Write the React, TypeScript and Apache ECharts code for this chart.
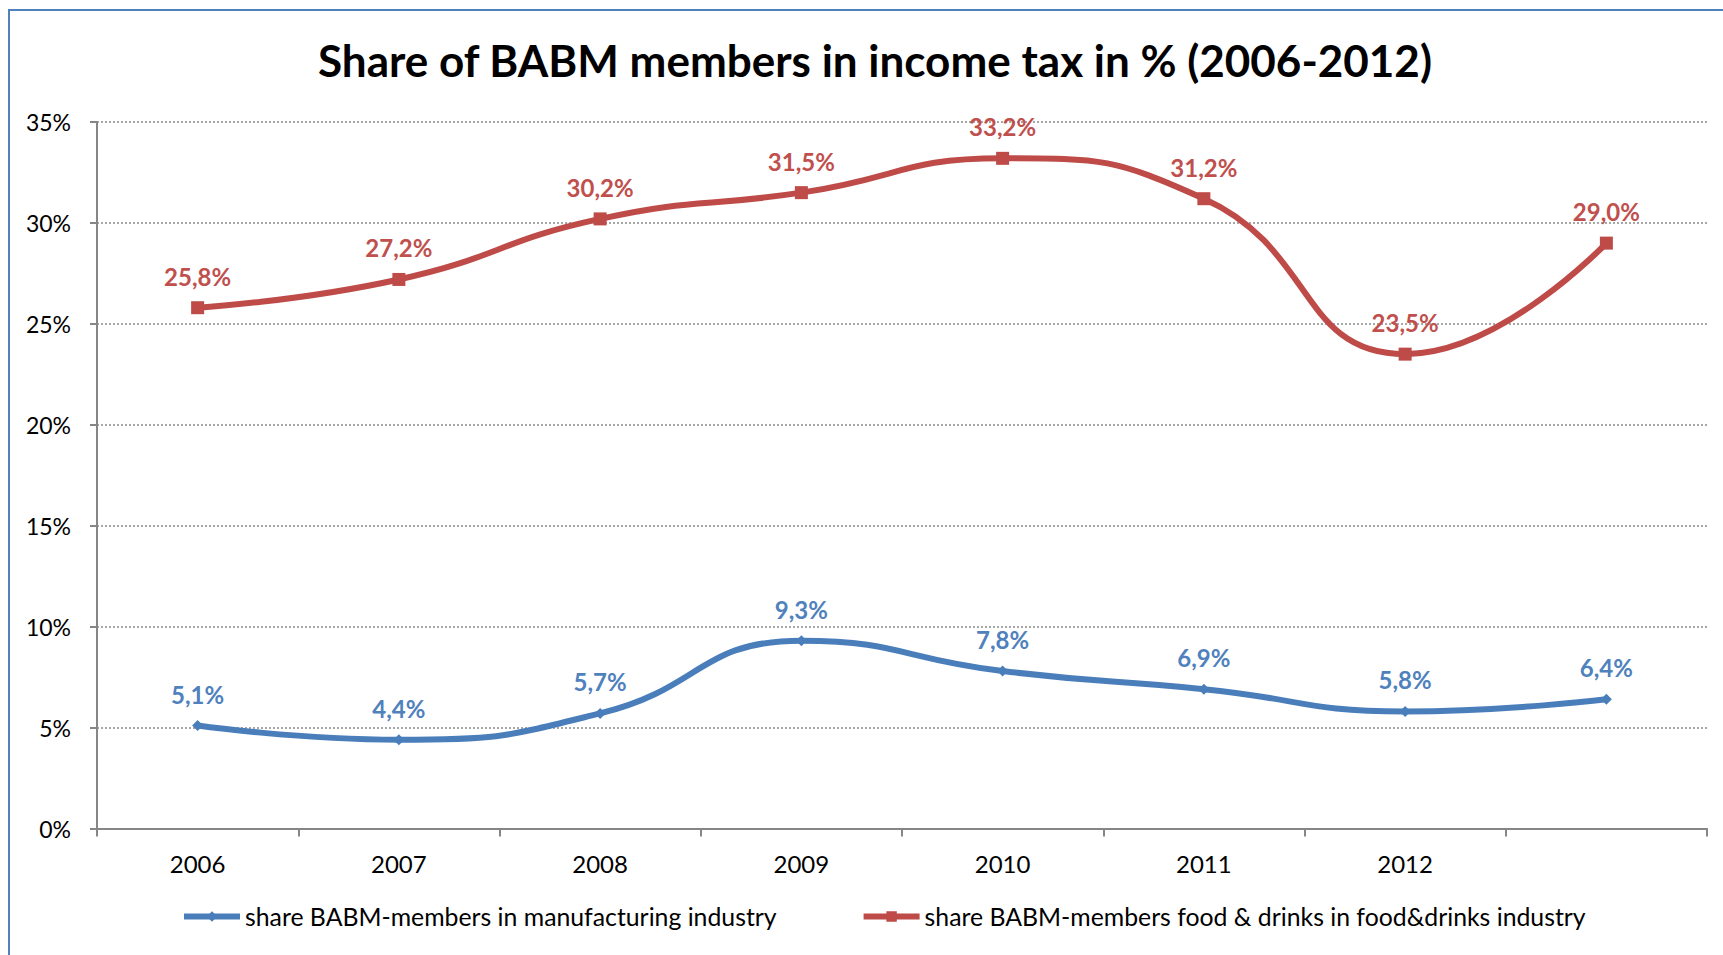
import React, { useEffect, useRef } from "react";
import * as echarts from "echarts";

const categories = ["2006", "2007", "2008", "2009", "2010", "2011", "2012", ""];
const manufacturing = [5.1, 4.4, 5.7, 9.3, 7.8, 6.9, 5.8, 6.4];
const foodDrinks = [25.8, 27.2, 30.2, 31.5, 33.2, 31.2, 23.5, 29.0];
const seriesNames = [
  "share BABM-members in manufacturing industry",
  "share BABM-members food & drinks in food&drinks industry",
];
const titleText = "Share of BABM members in income tax in % (2006-2012)";

const FONT = "Lato";

const fmt = (v: number) => v.toFixed(1).replace(".", ",") + "%";

export default function App() {
  const ref = useRef<HTMLDivElement>(null);
  useEffect(() => {
    if (!ref.current) return;
    const chart = echarts.init(ref.current, undefined, { renderer: "svg" });
    chart.setOption({
      animation: false,
      backgroundColor: "#ffffff",
      textStyle: { fontFamily: FONT },
      title: {
        text: titleText,
        left: 870,
        top: 33,
        textAlign: "center",
        textStyle: { fontFamily: FONT, fontWeight: "bold", fontSize: 44, color: "#000000" },
      },
      graphic: [
        {
          type: "rect",
          shape: { x: 9, y: 10, width: 1800, height: 1000 },
          style: { fill: "none", stroke: "#4F81BD", lineWidth: 2 },
          silent: true,
        },
      ],
      grid: { left: 97, right: 16, top: 122, bottom: 126.5 },
      legend: {
        bottom: 26,
        left: 181,
        padding: 0,
        itemWidth: 56,
        itemHeight: 13,
        itemGap: 84,
        lineStyle: { width: 6 },
        textStyle: { fontFamily: FONT, fontSize: 24.8, color: "#000000" },
        data: seriesNames,
      },
      xAxis: {
        type: "category",
        data: categories,
        boundaryGap: true,
        axisLine: { lineStyle: { color: "#868686", width: 2 } },
        axisTick: { show: true, length: 8, lineStyle: { color: "#868686", width: 2 } },
        axisLabel: { fontFamily: FONT, fontSize: 24, color: "#000000", margin: 23 },
        splitLine: { show: false },
      },
      yAxis: {
        type: "value",
        min: 0,
        max: 35,
        interval: 5,
        axisLine: { show: true, lineStyle: { color: "#868686", width: 2 } },
        axisTick: { show: true, length: 7, lineStyle: { color: "#868686", width: 2 } },
        axisLabel: {
          fontFamily: FONT,
          fontSize: 23,
          color: "#000000",
          margin: 26,
          formatter: "{value}%",
        },
        splitLine: { show: true, lineStyle: { color: "#8a8a8a", type: [2, 2], width: 1.5 } },
      },
      series: [
        {
          name: seriesNames[0],
          type: "line",
          data: manufacturing,
          smooth: 0.5,
          symbol: "diamond",
          symbolSize: 11,
          color: "#4A7EBB",
          lineStyle: { color: "#4A7EBB", width: 6 },
          itemStyle: { color: "#4A7EBB" },
          label: {
            show: true,
            position: "top",
            distance: 14,
            fontFamily: FONT,
            fontWeight: "bold",
            fontSize: 24,
            color: "#4F81BD",
            formatter: (p: any) => fmt(p.value),
          },
        },
        {
          name: seriesNames[1],
          type: "line",
          data: foodDrinks,
          smooth: 0.5,
          symbol: "rect",
          symbolSize: 13,
          color: "#BE4B48",
          lineStyle: { color: "#BE4B48", width: 6 },
          itemStyle: { color: "#BE4B48" },
          label: {
            show: true,
            position: "top",
            distance: 13,
            fontFamily: FONT,
            fontWeight: "bold",
            fontSize: 24,
            color: "#C0504D",
            formatter: (p: any) => fmt(p.value),
          },
        },
      ],
    });
    return () => chart.dispose();
  }, []);
  return (
    <div
      ref={ref}
      style={{ position: "absolute", left: 0, top: 0, width: 1723, height: 955 }}
    />
  );
}
